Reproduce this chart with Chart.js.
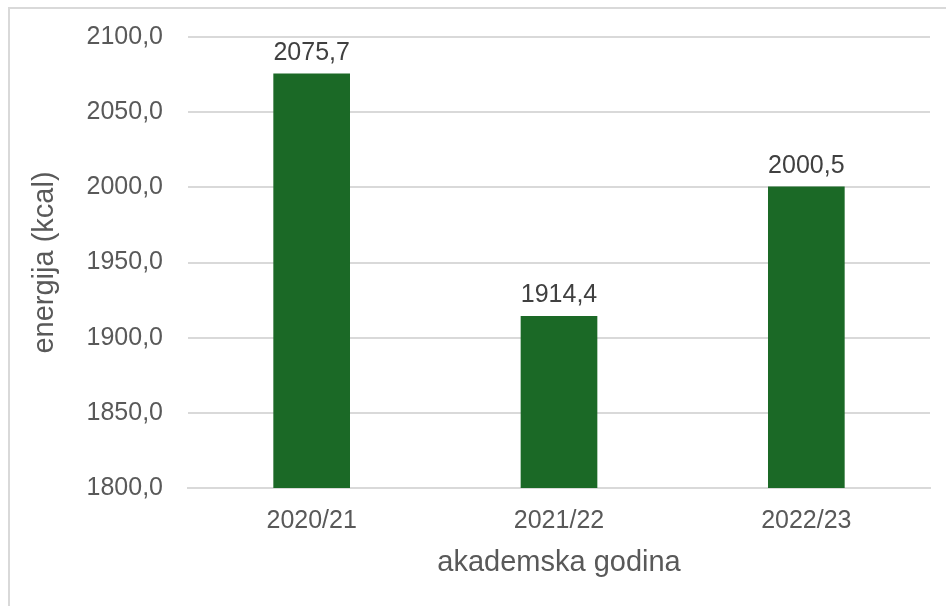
<!DOCTYPE html>
<html>
<head>
<meta charset="utf-8">
<script src="https://cdn.jsdelivr.net/npm/chart.js@4"></script>
<style>
  html, body { margin: 0; padding: 0; background: #fff; overflow: hidden; }
  #frame { position: absolute; left: 8px; top: 7px; width: 1000px; height: 700px; border: 2px solid #d9d9d9; box-sizing: border-box; }
  #wrap { position: absolute; left: 0; top: 0; width: 946px; height: 606px; }
</style>
</head>
<body>
<div id="frame"></div>
<div id="wrap"><canvas id="barChart"></canvas></div>
<script>
// Podaci
const categories = ["2020/21", "2021/22", "2022/23"];
const energy = [2075.7, 1914.4, 2000.5];

const textColor = "#595959";
const fontFamily = "'Liberation Sans', Arial, sans-serif";

function fmt(v) {
    return v.toFixed(1).replace(".", ",");
}

// Oznake iznad stupaca
const valueLabels = {
    id: "valueLabels",
    afterDatasetsDraw(chart) {
        const ctx = chart.ctx;
        ctx.save();
        ctx.font = "25px " + fontFamily;
        ctx.fillStyle = "#404040";
        ctx.textAlign = "center";
        ctx.textBaseline = "bottom";
        chart.getDatasetMeta(0).data.forEach((bar, i) => {
            ctx.fillText(fmt(energy[i]), bar.x, bar.y - 8);
        });
        ctx.restore();
    }
};

const ctx = document.getElementById("barChart");
new Chart(ctx, {
    type: "bar",
    data: {
        labels: categories,
        datasets: [{
            data: energy,
            backgroundColor: "#1b6926",
            barPercentage: 0.31,
            categoryPercentage: 1
        }]
    },
    options: {
        responsive: true,
        maintainAspectRatio: false,
        animation: false,
        layout: { padding: { left: 24, top: 37, right: 16, bottom: 26 } },
        plugins: {
            legend: { display: false },
            tooltip: { enabled: false }
        },
        scales: {
            x: {
                grid: { display: false, drawTicks: false },
                border: { color: "#d9d9d9", width: 2 },
                ticks: { color: textColor, font: { size: 25, family: fontFamily }, padding: 18 },
                title: { display: true, text: "akademska godina", color: textColor, font: { size: 29, family: fontFamily }, padding: { top: 8, bottom: 0 } },
                afterFit(scale) { scale.height = 92; }
            },
            y: {
                min: 1800,
                max: 2100,
                grid: { color: "#d9d9d9", lineWidth: 2, drawTicks: false },
                border: { display: false },
                ticks: { stepSize: 50, color: textColor, font: { size: 25, family: fontFamily }, padding: 25, callback: v => fmt(v) },
                title: { display: true, text: "energija (kcal)", color: textColor, font: { size: 29, family: fontFamily }, padding: { top: 4, bottom: 0 } },
                afterFit(scale) {
                    scale.width = 164;
                    scale.paddingTop = 0;
                    scale.paddingBottom = 0;
                }
            }
        }
    },
    plugins: [valueLabels]
});
</script>
</body>
</html>
